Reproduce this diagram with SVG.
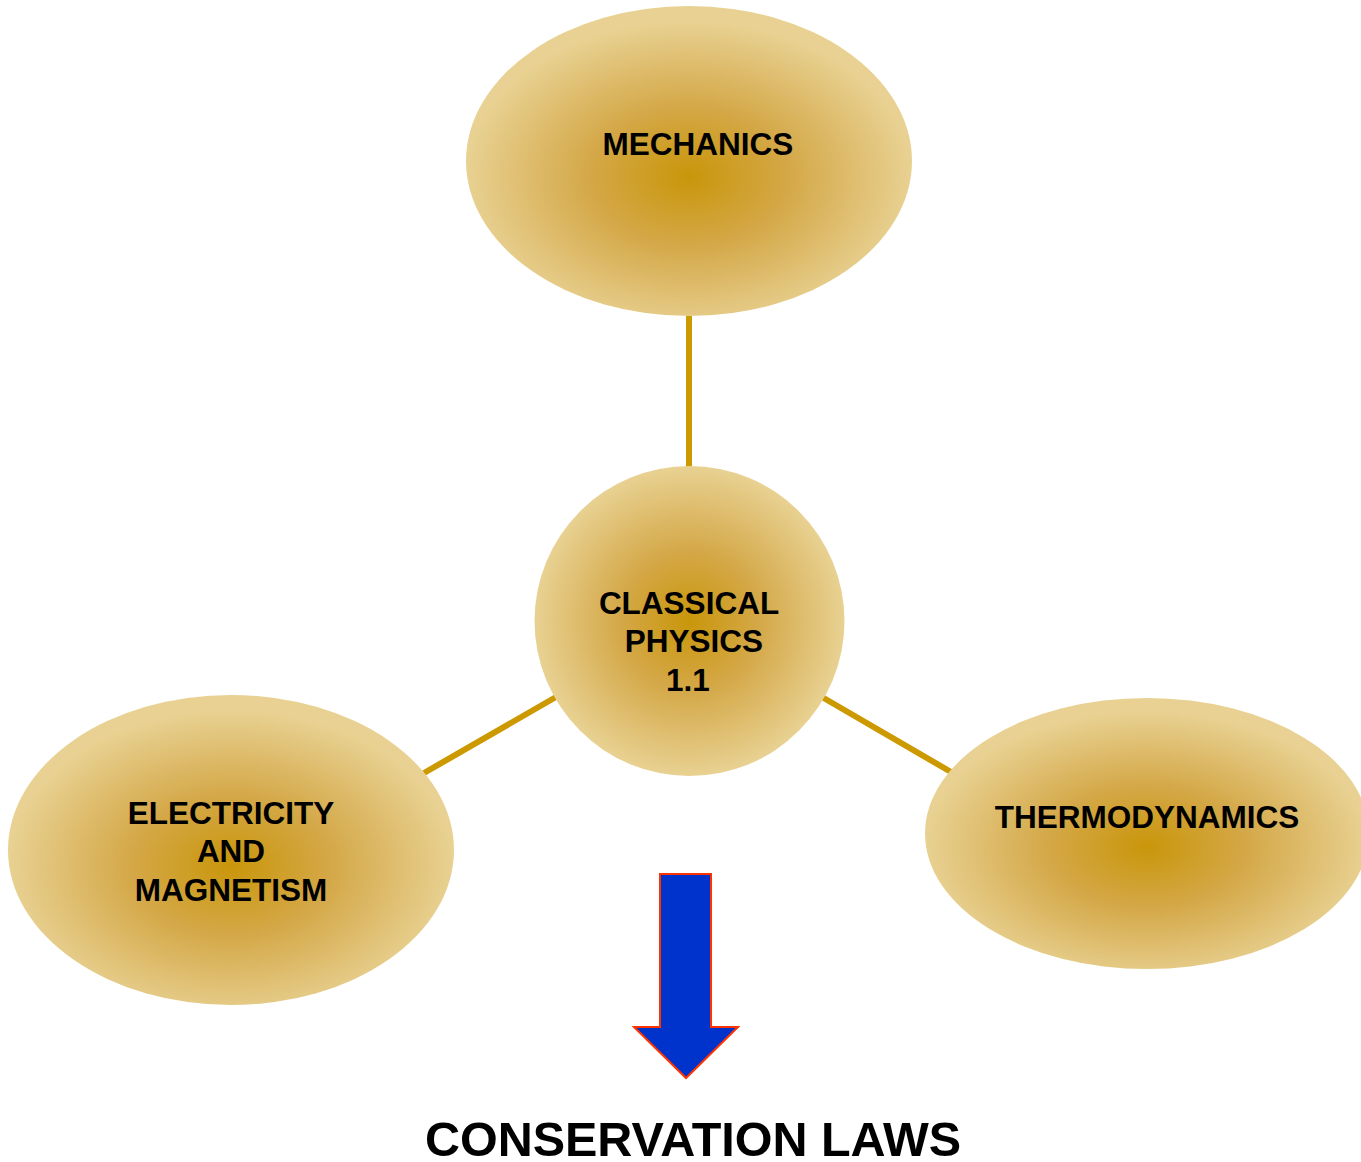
<svg xmlns="http://www.w3.org/2000/svg" width="1361" height="1162" viewBox="0 0 1361 1162">
<defs>
<radialGradient id="gold" cx="50%" cy="55%" r="50%">
<stop offset="0" stop-color="#C9960A"/>
<stop offset="0.45" stop-color="#D4A848"/>
<stop offset="1" stop-color="#E8D192"/>
</radialGradient>
<radialGradient id="goldc" cx="50%" cy="50%" r="50%">
<stop offset="0" stop-color="#C9960A"/>
<stop offset="0.45" stop-color="#D4A848"/>
<stop offset="1" stop-color="#E8D192"/>
</radialGradient>
</defs>
<style>
.node{fill:url(#gold);}
.lbl{font-family:"Liberation Sans",Arial,sans-serif;font-weight:bold;font-size:31.5px;fill:#000;text-anchor:middle;}
.conn line{stroke:#CC9900;stroke-width:6;}
</style>
<rect width="1361" height="1162" fill="#fff"/>
<g id="connectors" class="conn">
<line x1="689" y1="316" x2="689" y2="468"/>
<line x1="424" y1="773" x2="556" y2="697"/>
<line x1="822" y1="697" x2="951" y2="772"/>
</g>
<g id="mechanics">
<ellipse class="node" cx="689" cy="161" rx="223" ry="155"/>
<text class="lbl" x="698" y="155">MECHANICS</text>
</g>
<g id="classical">
<circle cx="689.5" cy="621" r="155" fill="url(#goldc)"/>
<text class="lbl" x="689" y="614">CLASSICAL</text>
<text class="lbl" x="694" y="652">PHYSICS</text>
<text class="lbl" x="688" y="691">1.1</text>
</g>
<g id="electricity">
<ellipse class="node" cx="231" cy="850" rx="223" ry="155"/>
<text class="lbl" x="231" y="824">ELECTRICITY</text>
<text class="lbl" x="231" y="862">AND</text>
<text class="lbl" x="231" y="901">MAGNETISM</text>
</g>
<g id="thermodynamics">
<ellipse class="node" cx="1147" cy="833.5" rx="222" ry="135.5"/>
<text class="lbl" x="1147" y="828">THERMODYNAMICS</text>
</g>
<g id="arrow">
<polygon points="660,874 711,874 711,1027 738,1027 686,1078 634,1027 660,1027" fill="#0033CC" stroke="#FF3300" stroke-width="2"/>
</g>
<g id="conservation">
<text x="693" y="1156" style="font-family:'Liberation Sans',Arial,sans-serif;font-weight:bold;font-size:48.5px;text-anchor:middle;fill:#000">CONSERVATION LAWS</text>
</g>
</svg>
